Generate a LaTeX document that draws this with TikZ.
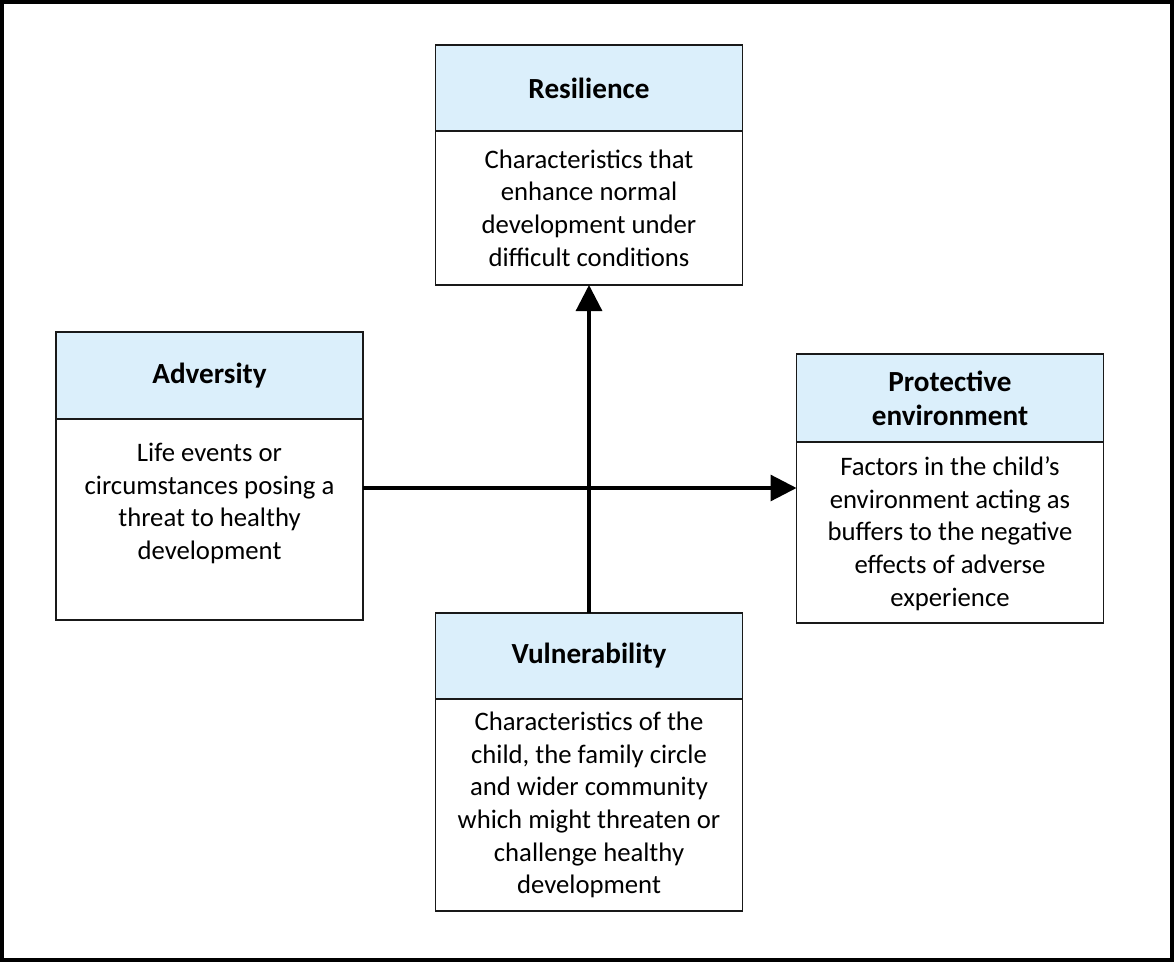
\documentclass[tikz,border=0pt]{standalone}
\usepackage{fontspec}
\setmainfont{Carlito}
\usepackage{tikz}
\usetikzlibrary{arrows.meta,positioning}
\definecolor{cHead}{RGB}{219,239,251}
\definecolor{cLine}{RGB}{25,25,25}
\tikzset{
  head/.style={draw=cLine, fill=cHead, line width=1pt, outer sep=0pt, inner sep=0pt,
               minimum width=6.14cm, align=center, font=\fontsize{16.6}{19.5}\selectfont\bfseries},
  body/.style={draw=cLine, fill=white, line width=1pt, outer sep=0pt, inner sep=0pt,
               minimum width=6.14cm},
  txt/.style={align=center, inner sep=0pt, font=\fontsize{15.2}{18.6}\selectfont},
  arr/.style={-{Triangle[length=5.2mm,width=5.2mm]}, line width=1.8pt},
}

\begin{document}
\begin{tikzpicture}
  \useasboundingbox (0,0) rectangle (23.48,19.24);
  \draw[line width=0.09cm] (0.045,0.045) rectangle (23.435,19.195);

  % the four boxes: heading on top, description below
  \node[head, minimum height=1.72cm, anchor=north] (res) at (11.78,18.34) {Resilience};
  \node[body, minimum height=3.08cm, below=0pt of res] (resb) {};
  \node[head, minimum height=1.74cm, anchor=north] (adv) at (4.19,12.60) {Adversity};
  \node[body, minimum height=4.02cm, below=0pt of adv] (advb) {};
  \node[head, minimum height=1.76cm, anchor=north] (pro) at (19.00,12.16) {Protective\\environment};
  \node[body, minimum height=3.62cm, below=0pt of pro] (prob) {};
  \node[head, minimum height=1.72cm, anchor=north] (vul) at (11.78,6.98) {Vulnerability};
  \node[body, minimum height=4.24cm, below=0pt of vul] (vulb) {};

  \node[txt] (rest) at (resb) {Characteristics that\\enhance normal\\development under\\difficult conditions};
  \node[txt] (advt) at ([yshift=0.32cm]advb.center) {Life events or\\circumstances posing a\\threat to healthy\\development};
  \node[txt] (prot) at ([yshift=-0.02cm]prob.center) {Factors in the child’s\\environment acting as\\buffers to the negative\\effects of adverse\\experience};
  \node[txt] (vult) at (vulb) {Characteristics of the\\child, the family circle\\and wider community\\which might threaten or\\challenge healthy\\development};

  \coordinate (mid) at (11.78,9.48);
  \draw[arr] (advb.east |- mid) -- (prob.west |- mid);
  \draw[arr] (vul.north) -- (resb.south);
\end{tikzpicture}
\end{document}
